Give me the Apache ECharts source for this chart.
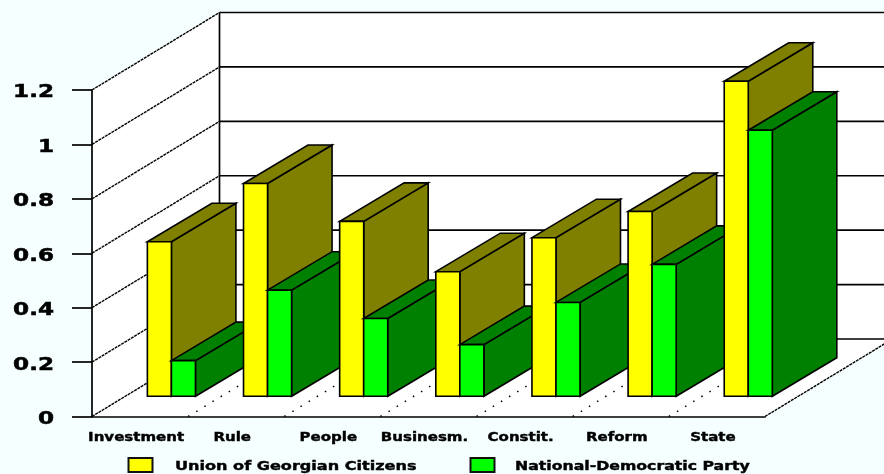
<!DOCTYPE html>
<html>
<head>
<meta charset="utf-8">
<style>html,body{margin:0;padding:0;background:#f6ffff}#chart{width:884px;height:474px}</style>
<script src="https://cdn.jsdelivr.net/npm/echarts@6/dist/echarts.min.js"></script>
</head>
<body>
<div id="chart"></div>
<script>
// Party scores per theme
const categories = ['Investment', 'Rule', 'People', 'Businesm.', 'Constit.', 'Reform', 'State'];
const unionValues = [0.568, 0.782, 0.643, 0.458, 0.583, 0.679, 1.158];
const nationalValues = [0.131, 0.390, 0.286, 0.190, 0.345, 0.485, 0.978];
const yTicks = [0, 0.2, 0.4, 0.6, 0.8, 1, 1.2];
const unionName = 'Union of Georgian Citizens';
const nationalName = 'National-Democratic Party';

// Oblique projection of the box: pixels from front plane to back wall
const DEPTH_X = 127.5, DEPTH_Y = -77.5;
// Bars sit a little behind the front edge and span part of the depth
const BAR_SHIFT_X = 7.3, BAR_SHIFT_Y = -20.2;
const BAR_DEPTH_X = 64.5, BAR_DEPTH_Y = -38.5;
const FONT = '"DejaVu Sans"';
const INK = '#000';

const chart = echarts.init(document.getElementById('chart'));

function line(x1, y1, x2, y2, width, dash) {
  return {
    type: 'line', z2: 1,
    shape: { x1, y1, x2, y2 },
    style: { stroke: INK, lineWidth: width, lineDash: dash || null }
  };
}

// Walls, floor and their rulings
function renderFrame(params, api) {
  if (params.dataIndex !== 0) return;
  const n = categories.length;
  const origin = api.coord([0, 0]);
  const band = api.size([1, 0])[0];
  const left = origin[0] - band / 2;
  const right = left + band * n;
  const top = api.coord([0, yTicks[yTicks.length - 1]])[1];
  const bottom = origin[1];
  const children = [{
    type: 'polygon', z2: 0,
    shape: { points: [
      [left, top], [left + DEPTH_X, top + DEPTH_Y],
      [right + DEPTH_X, top + DEPTH_Y], [right + DEPTH_X, bottom + DEPTH_Y],
      [right, bottom], [left, bottom]
    ] },
    style: { fill: '#fff' }
  }];
  yTicks.forEach(function (t) {
    const y = api.coord([0, t])[1];
    children.push(line(left, y, left + DEPTH_X, y + DEPTH_Y, 1.4, [3, 0.8]));
    children.push(line(left + DEPTH_X, y + DEPTH_Y, right + DEPTH_X, y + DEPTH_Y, 1.7));
  });
  children.push(line(left + DEPTH_X, top + DEPTH_Y, left + DEPTH_X, bottom + DEPTH_Y, 1.7));
  children.push(line(right, bottom, right + DEPTH_X, bottom + DEPTH_Y, 1.4, [3, 0.8]));
  for (let i = 1; i < n; i++) {
    const x = left + band * i;
    children.push(line(x, bottom, x + DEPTH_X, bottom + DEPTH_Y, 1.5, [1.5, 8]));
  }
  return { type: 'group', children };
}

// One extruded bar: side, top and front faces
function renderBar(slot, faceColor, shadeColor) {
  return function (params, api) {
    const i = api.value(0);
    const band = api.size([1, 0])[0];
    const w = band / 4;
    const base = api.coord([i, 0]);
    const head = api.coord([i, api.value(1)]);
    const x0 = base[0] + BAR_SHIFT_X + slot * w;
    const x1 = x0 + w;
    const y0 = base[1] + BAR_SHIFT_Y;
    const y1 = head[1] + BAR_SHIFT_Y;
    const order = i * 10 + slot * 4 + 10;
    const edge = { stroke: INK, lineWidth: 1.6, lineJoin: 'miter' };
    return {
      type: 'group',
      children: [{
        type: 'polygon', z2: order,
        shape: { points: [[x1, y0], [x1, y1], [x1 + BAR_DEPTH_X, y1 + BAR_DEPTH_Y], [x1 + BAR_DEPTH_X, y0 + BAR_DEPTH_Y]] },
        style: Object.assign({ fill: shadeColor }, edge)
      }, {
        type: 'polygon', z2: order + 1,
        shape: { points: [[x0, y1], [x1, y1], [x1 + BAR_DEPTH_X, y1 + BAR_DEPTH_Y], [x0 + BAR_DEPTH_X, y1 + BAR_DEPTH_Y]] },
        style: Object.assign({ fill: shadeColor }, edge)
      }, {
        type: 'rect', z2: order + 2,
        shape: { x: x0, y: y1, width: w, height: y0 - y1 },
        style: Object.assign({ fill: faceColor }, edge)
      }]
    };
  };
}

// Wide bold labels for both axes and the legend entries
function wideText(text, x, y, size, stretch, align, heavy) {
  return {
    type: 'text', z2: 50, scaleX: stretch, x, y,
    style: {
      text, fill: INK, stroke: INK, lineWidth: heavy,
      font: 'bold ' + size + 'px ' + FONT, align, verticalAlign: 'middle'
    }
  };
}
function renderYLabel(params, api) {
  const t = api.value(0);
  return wideText(String(t), 54, api.coord([0, t])[1] + 3, 17, 1.36, 'right', 0.5);
}
function renderXLabel(params, api) {
  const i = api.value(0);
  return wideText(categories[i], api.coord([i, 0])[0] - 4, 438, 12, 1.25, 'center', 0.4);
}
function renderLegendText() {
  return {
    type: 'group',
    children: [
      wideText(unionName, 175, 467, 12, 1.34, 'left', 0.4),
      wideText(nationalName, 515, 467, 12, 1.31, 'left', 0.4)
    ]
  };
}

const noTip = { silent: true, legendHoverLink: false, animation: false };

chart.setOption({
  backgroundColor: '#f6ffff',
  animation: false,
  grid: { left: 92, top: 90, width: 673, height: 326.5 },
  xAxis: {
    type: 'category', data: categories, z: 5,
    axisLine: { lineStyle: { color: INK, width: 1.7 } },
    axisTick: { alignWithLabel: true, length: 4, lineStyle: { color: INK, width: 1.7 } },
    axisLabel: { show: false },
    splitLine: { show: false }
  },
  yAxis: {
    type: 'value', min: 0, max: 1.2, interval: 0.2, z: 5,
    axisLine: { show: true, lineStyle: { color: INK, width: 1.7 } },
    axisTick: { show: true, length: 20, lineStyle: { color: INK, width: 1.7 } },
    axisLabel: { show: false },
    splitLine: { show: false }
  },
  legend: {
    left: 127.5, top: 457, padding: 0, itemWidth: 24, itemHeight: 14, itemGap: 316,
    icon: 'rect',
    formatter: function () { return ''; },
    textStyle: { padding: 0 },
    data: [unionName, nationalName],
    selectedMode: false
  },
  series: [
    Object.assign({ type: 'custom', name: 'frame', z: 1, renderItem: renderFrame, data: [[0]], clip: false, encode: { x: 0, y: 0 } }, noTip),
    Object.assign({
      type: 'custom', name: unionName, z: 2, clip: false,
      itemStyle: { color: '#ffff00', borderColor: '#111', borderWidth: 1.8 },
      renderItem: renderBar(0, '#ffff00', '#808000'),
      encode: { x: 0, y: 1 },
      data: unionValues.map(function (v, i) { return [i, v]; })
    }, noTip),
    Object.assign({
      type: 'custom', name: nationalName, z: 2, clip: false,
      itemStyle: { color: '#00ff00', borderColor: '#111', borderWidth: 1.8 },
      renderItem: renderBar(1, '#00ff00', '#008000'),
      encode: { x: 0, y: 1 },
      data: nationalValues.map(function (v, i) { return [i, v]; })
    }, noTip),
    Object.assign({ type: 'custom', name: 'yLabels', z: 6, clip: false, renderItem: renderYLabel, encode: { y: 0 }, data: yTicks.map(function (t) { return [t]; }) }, noTip),
    Object.assign({ type: 'custom', name: 'xLabels', z: 6, clip: false, renderItem: renderXLabel, encode: { x: 0 }, data: categories.map(function (c, i) { return [i]; }) }, noTip),
    Object.assign({ type: 'custom', name: 'legendText', z: 6, clip: false, renderItem: renderLegendText, data: [[0]] }, noTip)
  ]
});
</script>
</body>
</html>
